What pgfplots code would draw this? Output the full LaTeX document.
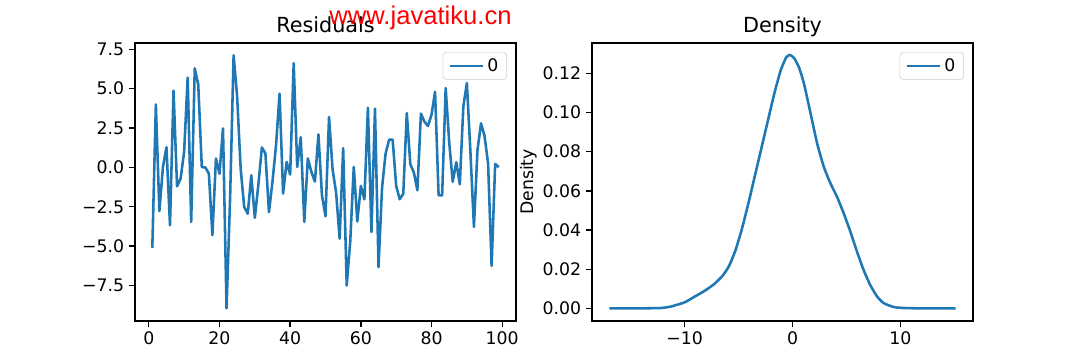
\documentclass[border=0pt]{standalone}
\usepackage{fontspec}
\setmainfont{DejaVu Sans}
\newfontfamily\wmfont{Liberation Sans}
\usepackage{pgfplots}
\pgfplotsset{compat=1.18}
\definecolor{mplblue}{HTML}{1F77B4}
\pgfplotsset{
  mplstyle/.style={
    scale only axis,
    width=3.81in, height=2.78in,
    anchor=south west,
    axis line style={line width=1pt},
    every tick/.style={black, line width=1pt},
    major tick length=4.4pt,
    tick align=outside,
    xtick pos=lower, ytick pos=left,
    tick label style={font=\fontsize{12.5}{15}\selectfont},
    every axis title/.style={font=\fontsize{15}{18}\selectfont, at={(0.5,1)}, anchor=base, yshift=7.5pt},
    label style={font=\fontsize{12.5}{15}\selectfont},
    legend style={at={(0.976,0.968)}, anchor=north east, draw=black!20, rounded corners=2.5pt,
      fill=white, fill opacity=0.8, text opacity=1, font=\fontsize{12.5}{15}\selectfont,
      inner xsep=4pt, inner ysep=2.5pt},
    legend cell align=left,
    legend image code/.code={\draw[##1] (0cm,0cm) -- (0.85cm,0cm);},
  }
}
\begin{document}
\begin{tikzpicture}
\path[use as bounding box] (0,0) rectangle (10.8in,3.6in);
\begin{axis}[mplstyle,
  at={(1.35in,0.39in)},
  xmin=-3.9, xmax=103.9, ymin=-9.75, ymax=7.9,
  xtick={0,20,40,60,80,100},
  xticklabels={0,20,40,60,80,100},
  ytick={-7.5,-5,-2.5,0,2.5,5,7.5},
  yticklabels={−7.5,−5.0,−2.5,0.0,2.5,5.0,7.5},
  title={Residuals},
]
\addplot[mplblue, line width=1.85pt, line join=round] coordinates {
(1,-5.1) (2,4.0) (3,-2.78) (4,0.02) (5,1.28) (6,-3.68) (7,4.87) (8,-1.2) (9,-0.71) (10,1.0)
(11,5.7) (12,-3.46) (13,6.29) (14,5.25) (15,0.02) (16,0.0) (17,-0.39) (18,-4.3) (19,0.57) (20,-0.4)
(21,2.48) (22,-8.95) (23,-2.0) (24,7.12) (25,4.49) (26,-0.1) (27,-2.51) (28,-2.94) (29,-0.5) (30,-3.2)
(31,-1.1) (32,1.27) (33,0.88) (34,-2.84) (35,-0.9) (36,1.4) (37,4.68) (38,-1.66) (39,0.35) (40,-0.45)
(41,6.62) (42,0.03) (43,1.92) (44,-3.46) (45,0.57) (46,-0.28) (47,-0.9) (48,2.1) (49,-1.78) (50,-3.1)
(51,3.2) (52,-0.12) (53,-1.6) (54,-4.52) (55,1.22) (56,-7.5) (57,-4.7) (58,0.03) (59,-3.43) (60,-1.18)
(61,-2.03) (62,3.79) (63,-4.1) (64,3.73) (65,-6.32) (66,-1.3) (67,0.88) (68,1.76) (69,1.76) (70,-1.18)
(71,-2.02) (72,-1.68) (73,3.45) (74,0.2) (75,-0.32) (76,-1.45) (77,3.42) (78,2.9) (79,2.63) (80,3.35)
(81,4.81) (82,-1.78) (83,-1.78) (84,5.04) (85,1.6) (86,-0.91) (87,0.33) (88,-1.07) (89,3.87) (90,5.36)
(91,1.0) (92,-3.78) (93,1.1) (94,2.8) (95,2.0) (96,0.25) (97,-6.26) (98,0.22) (99,0.02)
};
\addlegendentry{0}
\end{axis}
\begin{axis}[mplstyle,
  at={(5.92in,0.39in)},
  xmin=-18.6, xmax=16.74, ymin=-0.00645, ymax=0.1355,
  xtick={-10,0,10},
  xticklabels={−10,0,10},
  ytick={0,0.02,0.04,0.06,0.08,0.10,0.12},
  yticklabels={0.00,0.02,0.04,0.06,0.08,0.10,0.12},
  title={Density},
  ylabel={Density},
  ylabel style={yshift=-3pt},
]
\addplot[mplblue, line width=1.85pt, smooth, tension=0.35] coordinates {
(-16.99,0) (-15,0.00001) (-13.5,0.00005) (-12.2,0.0002) (-11.3,0.0009) (-10,0.0031) (-9.14,0.0058)
(-8.2,0.0088) (-7.29,0.0123) (-6.5,0.0166) (-5.9,0.0215) (-5.3,0.0295) (-4.7,0.0405)
(-4.1,0.0535) (-3.5,0.0675) (-2.9,0.0815) (-2.3,0.0955) (-1.7,0.1095) (-1.1,0.1215)
(-0.6,0.1280) (-0.25,0.1294) (0.15,0.1278) (0.6,0.1230) (1.05,0.1150) (1.67,0.0996) (2.28,0.0843) (2.9,0.0723)
(3.52,0.0638) (4.14,0.0568) (4.75,0.0485) (5.37,0.0391) (5.99,0.0288) (6.6,0.0195)
(7.22,0.0118) (7.84,0.0061) (8.45,0.0027) (9.38,0.0007) (10.3,0.0002) (11.5,0.00003) (13,0) (15.13,0)
};
\addlegendentry{0}
\end{axis}
\node[anchor=base, text=red, font=\wmfont\fontsize{18.5}{22}\selectfont, inner sep=0pt] at (4.205in,3.35in) {www.javatiku.cn};
\end{tikzpicture}
\end{document}
